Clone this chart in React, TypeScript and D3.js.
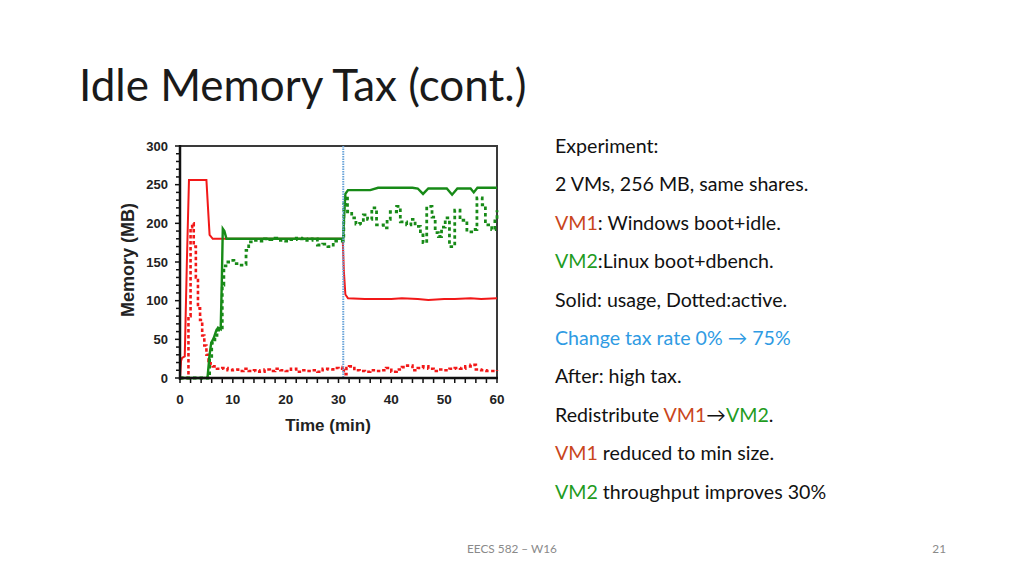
import * as d3 from 'd3';

const W = 1024;
const H = 576;

// memory traces, [minute, MB]
const vm1Usage: [number, number][] = [
  [0, 0], [0.2, 22], [0.4, 26], [0.9, 28], [1.3, 150], [1.7, 256], [5.0, 256], [5.3, 220],
  [5.6, 185], [6.2, 180], [30.8, 180], [31.0, 140], [31.3, 108], [31.8, 103], [35, 102],
  [40, 102], [42, 103], [45, 102], [47, 101], [50, 102], [52, 102], [55, 103], [57, 102], [60, 103],
];

const vm1Active: [number, number][] = [
  [0, 0], [1.2, 0], [1.6, 80], [2, 195], [2.3, 200], [2.6, 170], [3, 130], [3.4, 90], [3.8, 75],
  [4.2, 55], [4.6, 42], [5, 30], [5.4, 22], [5.8, 17], [6.2, 15], [7, 12], [8, 13], [9, 10],
  [10, 11], [11, 9], [12, 12], [13, 9], [14, 10], [15, 8], [16, 11], [17, 9], [18, 12], [19, 10],
  [20, 9], [21, 12], [22, 8], [23, 10], [24, 9], [25, 10], [26, 8], [27, 12], [28, 11], [29, 13],
  [30, 12], [30.8, 14], [31, 5], [31.5, 13], [32, 15], [33, 10], [34, 9], [35, 8], [36, 10],
  [37, 9], [38, 10], [39, 13], [40, 8], [41, 11], [42, 14], [43, 16], [44, 10], [45, 13], [46, 15],
  [47, 12], [48, 9], [49, 11], [50, 10], [51, 12], [52, 13], [53, 12], [54, 15], [55, 17], [56, 11],
  [57, 10], [58, 9], [59, 9], [60, 10],
];

const vm2Usage: [number, number][] = [
  [0, 0], [5.2, 0], [5.6, 30], [5.9, 45], [6.4, 52], [6.8, 60], [7.2, 65], [7.7, 63], [7.9, 120],
  [8.1, 193], [8.4, 190], [8.8, 180], [30.9, 180], [31.0, 200], [31.3, 238], [31.8, 243], [36, 243],
  [37.5, 246], [44, 246], [45, 245], [46, 238], [47, 245], [50.5, 245], [51.5, 237], [52.5, 245],
  [55, 245], [55.6, 240], [56.3, 246], [60, 246],
];

const vm2Active: [number, number][] = [
  [0, 0], [5.3, 0], [5.6, 25], [6, 45], [6.6, 55], [7, 62], [7.7, 62], [8.0, 120], [8.3, 145],
  [8.7, 150], [9.5, 152], [10.2, 148], [11.2, 146], [12, 147], [12.5, 165], [13, 176], [14, 178],
  [15, 177], [16, 180], [17, 179], [18, 181], [19, 178], [20, 177], [21, 179], [22, 181], [23, 180],
  [24, 178], [25, 180], [26, 172], [27, 173], [28, 170], [29, 177], [30, 177], [30.9, 180],
  [31, 225], [31.3, 235], [31.7, 215], [32.5, 207], [33.3, 199], [34, 200], [34.7, 211], [35.5, 205],
  [36.3, 220], [37.2, 198], [38.5, 194], [39.2, 205], [39.8, 215], [41, 222], [41.7, 202],
  [42.9, 198], [43.7, 205], [44.5, 196], [45.5, 185], [46, 175], [46.7, 222], [47.7, 208],
  [48.3, 188], [48.9, 183], [49.5, 195], [50.2, 207], [51, 170], [52, 217], [53, 204], [54.3, 189],
  [55.5, 192], [56.2, 233], [57.2, 224], [57.8, 198], [59, 192], [59.6, 205], [60, 217],
];

const taxChangeAt = 30.9;
const yMajorTicks = [0, 50, 100, 150, 200, 250, 300];
const xMajorTicks = [0, 10, 20, 30, 40, 50, 60];

const RED = '#f21818';
const GREEN = '#178a17';
const TXT_RED = '#c9461c';
const TXT_GREEN = '#1f9c1f';
const TXT_BLUE = '#2f9be3';

type Seg = { t: string; c?: string };
const bullets: Seg[][] = [
  [{ t: 'Experiment:' }],
  [{ t: '2 VMs, 256 MB, same shares.' }],
  [{ t: 'VM1', c: TXT_RED }, { t: ': Windows boot+idle.' }],
  [{ t: 'VM2', c: TXT_GREEN }, { t: ':Linux boot+dbench.' }],
  [{ t: 'Solid: usage, Dotted:active.' }],
  [{ t: 'Change tax rate 0% \u2192 75%', c: TXT_BLUE }],
  [{ t: 'After: high tax.' }],
  [{ t: 'Redistribute ' }, { t: 'VM1', c: TXT_RED }, { t: '\u2192' }, { t: 'VM2', c: TXT_GREEN }, { t: '.' }],
  [{ t: 'VM1', c: TXT_RED }, { t: ' reduced to min size.' }],
  [{ t: 'VM2', c: TXT_GREEN }, { t: ' throughput improves 30%' }],
];

export default function App() {
  const x = d3.scaleLinear().domain([0, 60]).range([180, 497]);
  const y = d3.scaleLinear().domain([0, 300]).range([378, 146]);

  const solid = d3.line<[number, number]>().x((d) => x(d[0])).y((d) => y(d[1]));
  const stepped = d3
    .line<[number, number]>()
    .x((d) => x(d[0]))
    .y((d) => y(d[1]))
    .curve(d3.curveStepAfter);

  const yMinor = d3.range(0, 301, 10);
  const xMinor = d3.range(0, 61, 2);
  const axisFont = "'Liberation Sans', Arial, sans-serif";
  const slideFont = "Lato, 'Open Sans', sans-serif";

  return (
    <svg
      width={W}
      height={H}
      style={{ position: 'absolute', left: 0, top: 0, background: '#fff' }}
    >
      <rect width={W} height={H} fill="#fff" />
      <text x={79} y={101} fontFamily={slideFont} fontSize={44} fill="#1a1a1a">
        Idle Memory Tax (cont.)
      </text>

      {/* frame */}
      <path
        d={`M${x(0)},${y(300)}H${x(60)}V${y(0)}`}
        fill="none"
        stroke="#3a3a3a"
        strokeWidth={2}
      />

      {/* traces */}
      <path d={stepped(vm1Active) ?? ''} fill="none" stroke={RED} strokeWidth={2.6} strokeDasharray="3.5,2.5" />
      <path d={solid(vm1Usage) ?? ''} fill="none" stroke={RED} strokeWidth={2} />
      <path d={stepped(vm2Active) ?? ''} fill="none" stroke={GREEN} strokeWidth={2.8} strokeDasharray="3.5,3" />
      <path d={solid(vm2Usage) ?? ''} fill="none" stroke={GREEN} strokeWidth={2.4} />
      <line
        x1={x(taxChangeAt)}
        x2={x(taxChangeAt)}
        y1={y(300)}
        y2={y(0)}
        stroke="#6aa3d8"
        strokeWidth={2}
        strokeDasharray="1.5,1"
      />

      {/* y axis */}
      <line x1={x(0)} x2={x(0)} y1={y(300) - 1} y2={y(0) + 2} stroke="#111" strokeWidth={2.5} />
      {yMinor.map((v) => (
        <line
          key={`ym${v}`}
          x1={x(0) - (v % 50 === 0 ? 5 : 4)}
          x2={x(0)}
          y1={y(v)}
          y2={y(v)}
          stroke="#111"
          strokeWidth={1.5}
        />
      ))}
      {yMajorTicks.map((v) => (
        <text
          key={`yl${v}`}
          x={x(0) - 12}
          y={y(v)}
          dy="0.36em"
          textAnchor="end"
          fontFamily={axisFont}
          fontWeight={700}
          fontSize={13}
          fill="#222"
        >
          {v}
        </text>
      ))}

      {/* x axis */}
      <line x1={x(0) - 1} x2={x(60) + 1} y1={y(0)} y2={y(0)} stroke="#111" strokeWidth={2.5} />
      {xMinor.map((t) => (
        <line
          key={`xm${t}`}
          x1={x(t)}
          x2={x(t)}
          y1={y(0)}
          y2={y(0) + 5}
          stroke="#111"
          strokeWidth={1.5}
        />
      ))}
      {xMajorTicks.map((t) => (
        <text
          key={`xl${t}`}
          x={x(t)}
          y={404}
          textAnchor="middle"
          fontFamily={axisFont}
          fontWeight={700}
          fontSize={13.5}
          fill="#222"
        >
          {t}
        </text>
      ))}
      <text
        x={328}
        y={431}
        textAnchor="middle"
        fontFamily={axisFont}
        fontWeight={700}
        fontSize={17}
        fill="#222"
      >
        Time (min)
      </text>
      <text
        transform={`translate(134,260) rotate(-90)`}
        textAnchor="middle"
        fontFamily={axisFont}
        fontWeight={700}
        fontSize={18}
        fill="#222"
      >
        Memory (MB)
      </text>

      {/* bullets */}
      {bullets.map((segs, i) => (
        <text key={i} x={555} y={153 + i * 38.4} fontFamily={slideFont} fontSize={19.6} fill="#111">
          {segs.map((s, j) => (
            <tspan key={j} fill={s.c ?? '#111'}>
              {s.t}
            </tspan>
          ))}
        </text>
      ))}

      <text x={512} y={553} textAnchor="middle" fontFamily={slideFont} fontSize={11.8} fill="#8a8a8a">
        EECS 582 – W16
      </text>
      <text x={946} y={553} textAnchor="end" fontFamily={slideFont} fontSize={11.8} fill="#8a8a8a">
        21
      </text>
    </svg>
  );
}
